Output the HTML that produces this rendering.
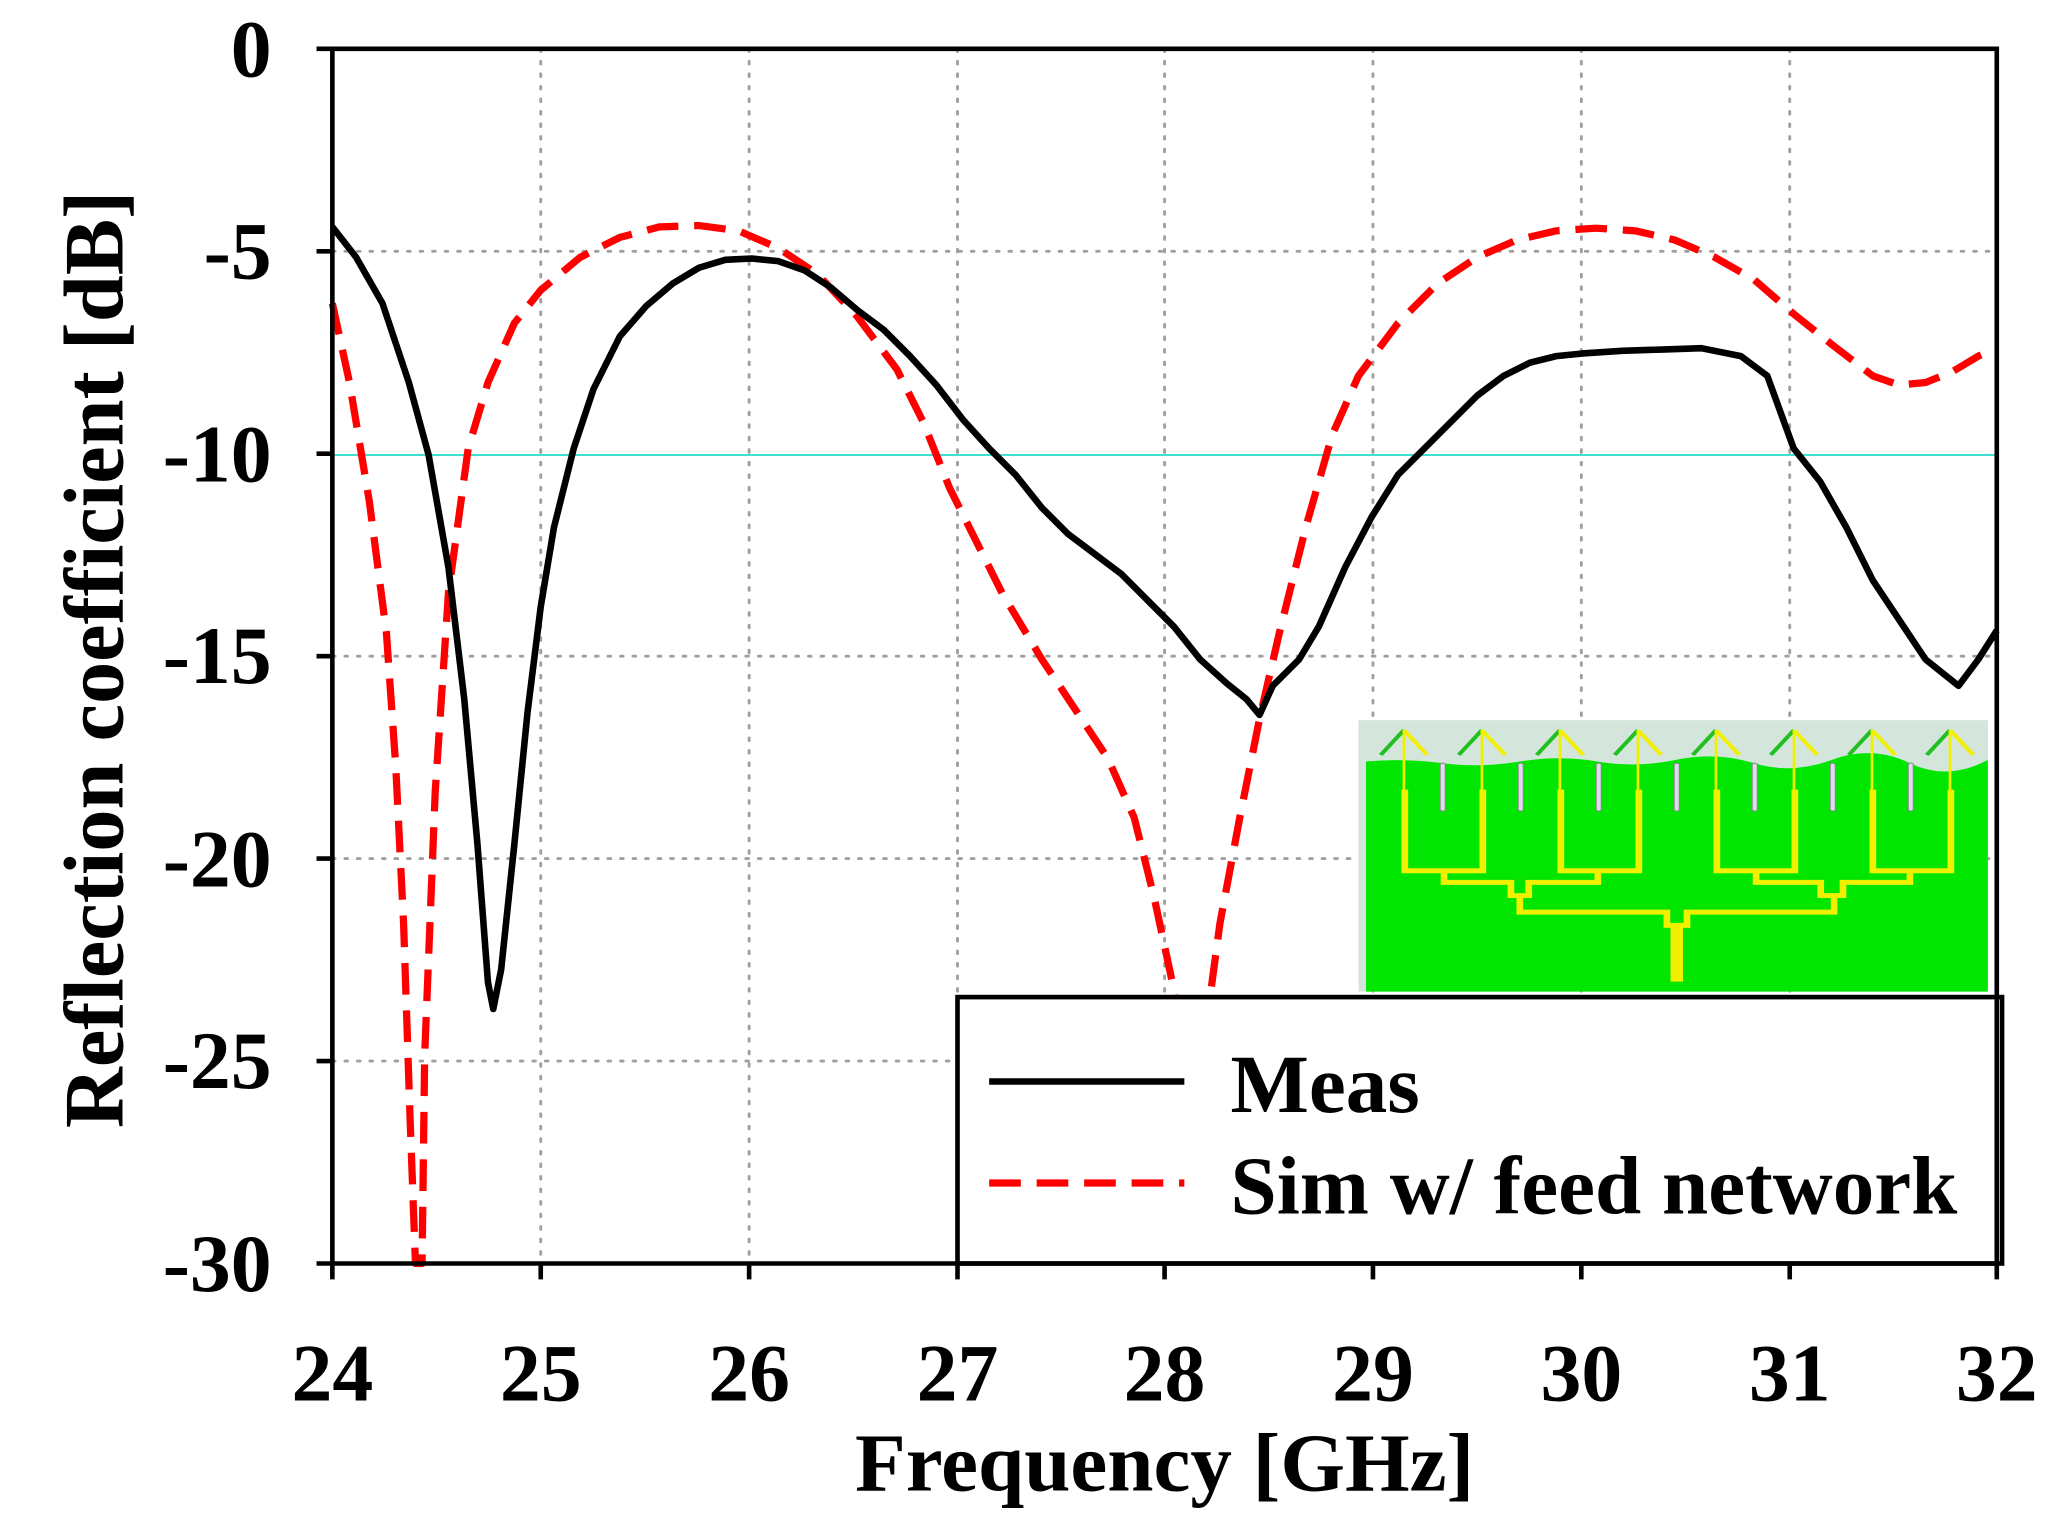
<!DOCTYPE html>
<html><head><meta charset="utf-8"><style>html,body{margin:0;padding:0;background:#fff}svg{display:block}</style></head>
<body>
<svg width="2068" height="1536" viewBox="0 0 1568 1164.6" xmlns="http://www.w3.org/2000/svg" font-family="'Liberation Serif',serif" font-weight="bold">
<rect width="1568" height="1165" fill="#fff"/>
<!-- grid -->
<g stroke="#a0a0a0" stroke-width="2.2" stroke-dasharray="2 7.5" stroke-linecap="round">
<line x1="410" y1="37" x2="410" y2="958"/><line x1="568" y1="37" x2="568" y2="958"/><line x1="726" y1="37" x2="726" y2="958"/><line x1="883" y1="37" x2="883" y2="958"/><line x1="1041" y1="37" x2="1041" y2="958"/><line x1="1199" y1="37" x2="1199" y2="958"/><line x1="1357" y1="37" x2="1357" y2="958"/>
<line x1="252" y1="190.5" x2="1514" y2="190.5"/><line x1="252" y1="497.5" x2="1514" y2="497.5"/><line x1="252" y1="651" x2="1514" y2="651"/><line x1="252" y1="804.5" x2="1514" y2="804.5"/>
</g>
<line x1="252" y1="345" x2="1514" y2="345" stroke="#40e0d0" stroke-width="1.5"/>
<!-- curves -->
<polyline fill="none" stroke="#f00" stroke-width="5.5" stroke-dasharray="24 12" stroke-linejoin="round" points="252,230 265,290 280,380 293,480 300,580 306,700 311,850 315,958 320,958 322,800 330,600 340,450 355,340 370,290 390,245 410,220 440,195 470,180 500,172 530,171 560,175 590,188 620,208 650,240 680,280 700,320 720,370 740,410 760,450 790,500 820,545 840,575 860,620 875,680 890,750 898,800 905,840 912,800 918,752 925,700 940,620 955,545 970,480 990,400 1010,330 1030,285 1060,245 1090,215 1120,195 1150,182 1180,175 1210,173 1240,175 1270,182 1300,195 1330,212 1360,238 1390,262 1420,285 1440,292 1460,290 1480,282 1500,270 1514,264"/>
<polyline fill="none" stroke="#000" stroke-width="5" stroke-linejoin="round" points="252,172 270,195 290,230 310,290 325,345 340,430 352,530 362,640 370,745 374,765 380,735 390,640 400,540 410,460 420,400 435,340 450,295 470,255 490,232 510,215 530,203 550,197 570,196 590,198 610,205 630,218 650,235 670,250 690,270 710,292 730,318 750,340 770,360 790,385 810,405 830,420 850,435 870,455 890,475 910,500 930,518 945,530 955,542 965,520 985,500 1000,475 1020,430 1040,392 1060,360 1080,340 1100,320 1120,300 1140,285 1160,275 1180,270 1200,268 1230,266 1260,265 1290,264 1320,270 1340,285 1360,340 1380,365 1400,400 1420,440 1440,470 1460,500 1485,520 1500,500 1514,478"/>
<!-- inset -->
<g transform="translate(1030,546) scale(0.338,0.251) translate(-18,-60)">
<rect x="18" y="60" width="1412" height="820" fill="#d4e6dc"/>
<path d="M35,185 Q120,175 205,190 T380,185 T555,185 T730,180 T905,190 T1080,180 T1255,190 T1430,180 L1430,880 L35,880 Z" fill="#00e600"/>
<g fill="#dde" stroke="#888" stroke-width="3">
<rect x="201" y="190" width="12" height="145" rx="6"/><rect x="376" y="190" width="12" height="145" rx="6"/><rect x="551" y="190" width="12" height="145" rx="6"/><rect x="726" y="190" width="12" height="145" rx="6"/><rect x="901" y="190" width="12" height="145" rx="6"/><rect x="1076" y="190" width="12" height="145" rx="6"/><rect x="1251" y="190" width="12" height="145" rx="6"/>
</g>
<g fill="none" stroke-width="10">
<path stroke="#20c020" d="M68,165 L120,90 M243,165 L295,90 M418,165 L470,90 M593,165 L645,90 M768,165 L820,90 M943,165 L995,90 M1118,165 L1170,90 M1293,165 L1345,90"/>
<path stroke="#f0f000" d="M120,90 L172,165 M295,90 L347,165 M470,90 L522,165 M645,90 L697,165 M820,90 L872,165 M995,90 L1047,165 M1170,90 L1222,165 M1345,90 L1397,165"/>
<path stroke="#f0f000" stroke-width="6" d="M120,90V270 M295,90V270 M470,90V270 M645,90V270 M820,90V270 M995,90V270 M1170,90V270 M1345,90V270"/>
<path stroke="#f0f000" stroke-width="15" d="M122,270V515H297V270 M472,270V515H647V270 M822,270V515H997V270 M1172,270V515H1347V270 M210,515V550H360V590H400V550H555V515 M910,515V550H1055V590H1105V550H1255V515 M380,590V640H710V680H755V640H1085V590"/>
<path stroke="#f0f000" stroke-width="28" d="M732,680V850"/>
</g>
</g>
<!-- legend -->
<rect x="726" y="756" width="792" height="202" fill="#fff" stroke="#000" stroke-width="3.5"/>
<line x1="750" y1="820" x2="898" y2="820" stroke="#000" stroke-width="5"/>
<line x1="750" y1="897" x2="898" y2="897" stroke="#f00" stroke-width="5.5" stroke-dasharray="24 12"/>
<text x="933" y="843" font-size="63">Meas</text>
<text x="933" y="920" font-size="63">Sim w/ feed network</text>
<!-- axes -->
<g stroke="#000" stroke-width="3.5" fill="none">
<path d="M252,37V958H1514V37Z"/>
<path d="M240,37H252 M240,190.5H252 M240,344H252 M240,497.5H252 M240,651H252 M240,804.5H252 M240,958H252"/>
<path d="M252,958V970 M410,958V970 M568,958V970 M726,958V970 M883,958V970 M1041,958V970 M1199,958V970 M1357,958V970 M1514,958V970"/>
</g>
<g font-size="62" text-anchor="end">
<text x="206" y="58">0</text><text x="206" y="211">-5</text><text x="206" y="365">-10</text><text x="206" y="518">-15</text><text x="206" y="672">-20</text><text x="206" y="825">-25</text><text x="206" y="979">-30</text>
</g>
<g font-size="62" text-anchor="middle">
<text x="252" y="1062">24</text><text x="410" y="1062">25</text><text x="568" y="1062">26</text><text x="726" y="1062">27</text><text x="883" y="1062">28</text><text x="1041" y="1062">29</text><text x="1199" y="1062">30</text><text x="1357" y="1062">31</text><text x="1514" y="1062">32</text>
</g>
<text x="883" y="1130" font-size="63" text-anchor="middle">Frequency [GHz]</text>
<text transform="translate(93,500) rotate(-90)" font-size="64" text-anchor="middle">Reflection coefficient [dB]</text>
</svg>
</body></html>
